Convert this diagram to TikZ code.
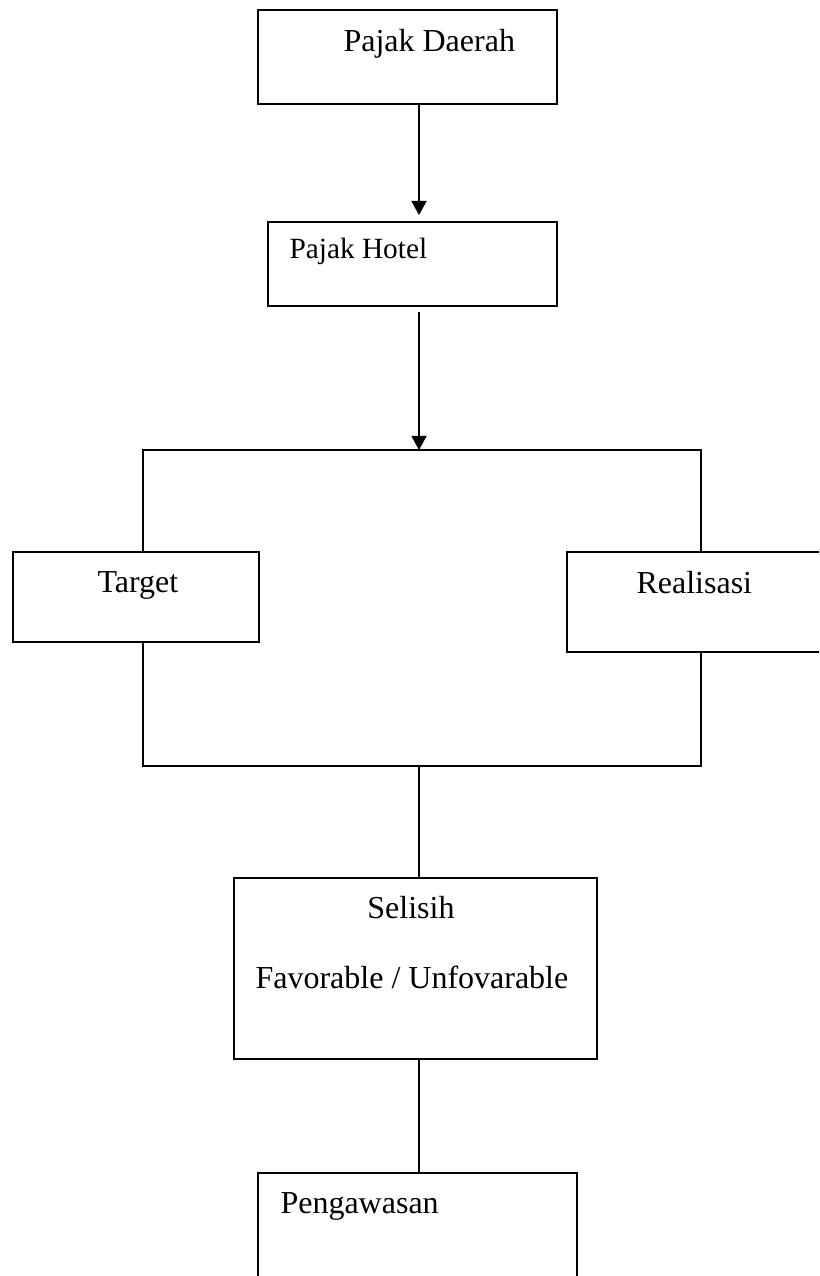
\documentclass[tikz,border=0pt]{standalone}
\usepackage{fontspec}
\setmainfont{Liberation Serif}
\usepackage{tikz}
\usetikzlibrary{arrows.meta,positioning}

\tikzset{
    kotak/.style={draw,fill=white,line width=.5pt,inner sep=0pt,outer sep=0pt},
    tulisan/.style={inner sep=0pt,anchor=base west},
    panah/.style={line width=.75pt,-{Triangle[width=5.6pt,length=5.3pt]}},
    garis/.style={line width=.6pt}
}

\begin{document}
\begin{tikzpicture}[x=.375pt,y=-.375pt,font=\fontsize{12pt}{14pt}\selectfont]
    \clip (0,0) rectangle (819,1276);
    \fill [white] (0,0) rectangle (819,1276);
    \coordinate (sumbu) at (419,0);
    % kotak-kotak
    \node [kotak,minimum width=112.125pt,minimum height=35.25pt] (daerah) at (407.5,57) {};
    \node [kotak,minimum width=108.375pt,minimum height=31.5pt] (hotel) at (412.5,264) {};
    \node [kotak,minimum width=209.25pt,minimum height=118.5pt,fill=none] (rangka) at (422,608) {};
    \node [kotak,minimum width=92.25pt,minimum height=33.75pt] (target) at (136,597) {};
    \node [kotak,minimum width=102.375pt,minimum height=37.5pt] (realisasi) at (703.5,602) {};
    \node [kotak,minimum width=136.125pt,minimum height=67.875pt] (selisih) at (415.5,968.5) {};
    \node [kotak,minimum width=119.625pt,minimum height=55.125pt] (pengawasan) at (417.5,1246.5) {};
    % tulisan
    \node [tulisan] (tDaerah) at (343,52) {Pajak Daerah};
    \node [tulisan,font=\fontsize{11pt}{13pt}\selectfont] (tHotel) at (289,259) {Pajak Hotel};
    \node [tulisan] (tTarget) at (97,592) {Target};
    \node [tulisan] (tRealisasi) at (636,593) {Realisasi};
    \node [tulisan,anchor=base] (tSelisih) at (411,918) {Selisih};
    \node [tulisan] (tFavor) at (255,988) {Favorable / Unfovarable};
    \node [tulisan] (tAwas) at (280,1213) {Pengawasan};
    % penghubung
    \draw [panah,shorten >=2.6pt] (daerah.south -| sumbu) -- (hotel.north -| sumbu);
    \draw [panah,shorten <=2.25pt] (hotel.south -| sumbu) -- (rangka.north -| sumbu);
    \draw [garis] (rangka.south -| sumbu) -- (selisih.north -| sumbu);
    \draw [garis] (selisih.south -| sumbu) -- (pengawasan.north -| sumbu);
\end{tikzpicture}
\end{document}
